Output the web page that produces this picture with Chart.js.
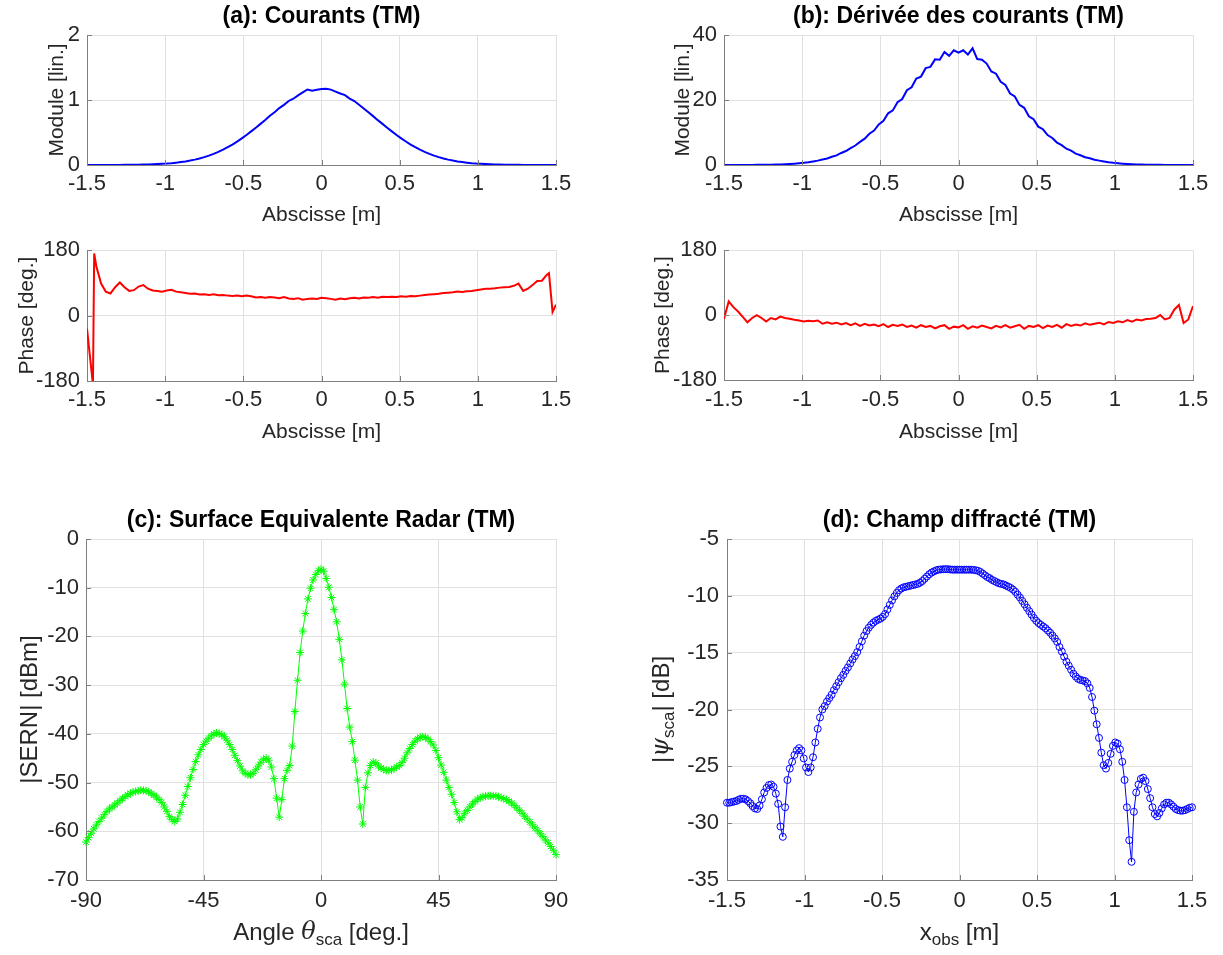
<!DOCTYPE html>
<html lang="fr">
<head>
<meta charset="UTF-8">
<title>Courants, SER et champ diffracté (TM)</title>
<script src="https://cdn.jsdelivr.net/npm/chart.js"></script>
<style>
  body { margin: 0; background: #fff; }
  #fig { position: relative; width: 1223px; height: 955px; background: #fff; overflow: hidden; }
  #fig canvas { position: absolute; }
</style>
</head>
<body>
<div id="fig">
  <canvas id="aMod"></canvas>
  <canvas id="aPha"></canvas>
  <canvas id="bMod"></canvas>
  <canvas id="bPha"></canvas>
  <canvas id="cSer"></canvas>
  <canvas id="dChamp"></canvas>
</div>
<script>
// --- abscissae ---
const xTop = Array.from({length: 101}, (_, i) => +(-1.5 + 0.03 * i).toFixed(3));
const xPhaseA = [-1.5, -1.462, -1.454, ...xTop.slice(2, 99), 1.455, 1.478, 1.5];
const angleSca = Array.from({length: 181}, (_, i) => i - 90);
const xObs = Array.from({length: 201}, (_, i) => +(-1.5 + 0.015 * i).toFixed(3));

// (a) courants : module [lin.]
const moduleA = [
  0.000,0.000,0.000,0.000,0.001,0.001,0.001,0.001,0.002,0.002,
  0.003,0.005,0.006,0.008,0.011,0.014,0.018,0.022,0.028,0.036,
  0.045,0.055,0.068,0.083,0.100,0.121,0.145,0.171,0.202,0.236,
  0.274,0.315,0.361,0.409,0.462,0.517,0.574,0.633,0.693,0.758,
  0.812,0.876,0.925,0.985,1.020,1.072,1.118,1.162,1.142,1.158,
  1.170,1.172,1.160,1.130,1.100,1.075,1.022,0.984,0.927,0.870,
  0.812,0.752,0.690,0.633,0.574,0.517,0.462,0.409,0.361,0.315,
  0.274,0.236,0.202,0.171,0.145,0.121,0.100,0.083,0.068,0.055,
  0.045,0.036,0.028,0.022,0.018,0.014,0.011,0.008,0.006,0.005,
  0.003,0.002,0.002,0.001,0.001,0.001,0.001,0.000,0.000,0.000,
  0.000
];
// (a) courants : phase [deg.] (sur xPhaseA)
const phaseA = [
  -36, -190, 171,
  135, 88, 66, 61, 78, 91, 78, 68, 70, 80,
  84, 74, 69, 68, 66, 69, 71, 66, 64, 62,
  60, 61, 58, 59, 57, 59, 56, 57, 55, 54,
  55, 53, 55, 53, 50, 51, 49, 51, 50, 48,
  51, 47, 46, 48, 44, 46, 47, 46, 49, 48,
  46, 44, 47, 45, 48, 49, 47, 50, 49, 51,
  49, 52, 51, 52, 51, 53, 52, 54, 53, 55,
  57, 58, 59, 60, 62, 63, 64, 66, 65, 67,
  68, 70, 72, 74, 74, 75, 77, 78, 79, 82,
  88, 68, 74, 84, 95, 96, 112,
  117, 10, 30
];
// (b) dérivée des courants : module [lin.]
const moduleB = [
  0.00,0.00,0.00,0.01,0.02,0.02,0.03,0.04,0.05,0.07,
  0.09,0.13,0.18,0.24,0.32,0.42,0.54,0.66,0.84,1.08,
  1.35,1.70,2.00,2.55,2.95,3.70,4.30,5.20,6.00,7.10,
  8.1,9.6,10.6,12.5,13.6,15.9,16.8,19.3,20.3,23.0,
  23.9,26.6,27.2,29.8,30.2,32.5,32.4,34.8,33.6,35.3,
  34.6,35.3,34.0,35.9,32.6,32.4,31.2,28.8,28.1,25.6,
  24.6,22.0,21.1,18.5,17.6,15.0,14.1,11.8,11.0,9.2,
  8.3,6.9,6.1,5.0,4.4,3.5,3.0,2.4,2.05,1.6,
  1.35,1.08,0.84,0.66,0.54,0.42,0.32,0.24,0.18,0.13,
  0.09,0.07,0.05,0.04,0.03,0.02,0.02,0.01,0.00,0.00,
  0.00
];
// (b) dérivée des courants : phase [deg.]
const phaseB = [
  -10, 38, 22, 10, -5, -20, -8, 0, -8, -18,
  -8, -12, -4, -8, -10, -13, -15, -18, -16, -17,
  -15, -24, -20, -24, -21, -26, -22, -28, -23, -30,
  -24, -29, -26, -31, -25, -33, -27, -30, -26, -33,
  -29, -35, -28, -33, -30, -37, -31, -28, -38, -32,
  -34, -28, -38, -31, -35, -29, -33, -37, -30, -34,
  -28, -35, -31, -27, -38, -30, -33, -28, -36, -29,
  -33, -27, -35, -25, -30, -26, -29, -23, -27, -24,
  -21, -26, -19, -22, -17, -20, -14, -18, -12, -15,
  -11, -10, -8, 0, -12, -8, 15, 28, -22, -12,
  25
];
// (c) |SERN| [dBm], un point par degré
const sernDb = [
  -62.2,-61.3,-60.4,-59.5,-58.7,-58.0,-57.3,-56.6,-55.9,-55.4,
  -55.0,-54.6,-54.2,-53.7,-53.3,-52.9,-52.5,-52.2,-52.0,-51.8,
  -51.7,-51.6,-51.6,-51.7,-51.9,-52.2,-52.6,-53.0,-53.5,-54.1,
  -55.0,-55.9,-57.0,-57.6,-58.0,-57.5,-56.1,-54.5,-52.6,-50.8,
  -49.0,-47.3,-45.7,-44.3,-43.2,-42.2,-41.5,-40.9,-40.4,-40.0,
  -39.8,-39.9,-40.2,-40.6,-41.3,-42.2,-43.2,-44.4,-45.5,-46.6,
  -47.6,-48.1,-48.4,-48.4,-48.1,-47.4,-46.6,-45.8,-45.2,-45.0,
  -45.4,-46.8,-49.2,-53.2,-57.1,-53.5,-49.2,-47.5,-46.5,-42.5,
  -35.4,-29.0,-23.3,-18.9,-15.3,-12.3,-10.1,-8.4,-7.3,-6.5,
  -6.2,-6.6,-8.1,-9.9,-12.0,-14.5,-17.0,-20.6,-24.8,-29.8,
  -34.8,-38.6,-41.6,-45.4,-49.5,-55.0,-58.5,-51.0,-48.0,-46.5,
  -45.8,-46.0,-46.6,-47.0,-47.3,-47.5,-47.5,-47.4,-47.1,-46.8,
  -46.5,-45.9,-45.0,-43.9,-43.0,-42.2,-41.5,-41.0,-40.7,-40.6,
  -40.7,-41.1,-41.6,-42.3,-43.4,-44.9,-46.4,-47.9,-49.5,-51.0,
  -52.4,-54.1,-56.0,-57.6,-57.2,-56.3,-55.7,-55.0,-54.4,-53.9,
  -53.4,-53.1,-52.9,-52.8,-52.7,-52.7,-52.7,-52.8,-52.9,-53.1,
  -53.3,-53.5,-53.8,-54.2,-54.7,-55.2,-55.7,-56.3,-56.9,-57.5,
  -58.1,-58.7,-59.3,-59.9,-60.5,-61.1,-61.8,-62.4,-63.1,-63.9,
  -64.8
];
// (d) |psi_sca| [dB]
const champDb = [
  -28.2,-28.2,-28.15,-28.1,-28.05,-27.95,-27.85,-27.85,-27.9,-28.05,
  -28.25,-28.5,-28.7,-28.75,-28.45,-27.9,-27.3,-26.9,-26.65,-26.6,
  -26.8,-27.4,-28.3,-30.3,-31.2,-28.6,-26.2,-25.2,-24.6,-24.0,
  -23.6,-23.4,-23.6,-24.3,-25.1,-25.5,-25.1,-24.2,-22.9,-21.7,
  -20.7,-20.0,-19.7,-19.3,-19.0,-18.7,-18.3,-17.95,-17.6,-17.25,
  -16.95,-16.6,-16.3,-15.95,-15.6,-15.3,-14.95,-14.5,-14.0,-13.5,
  -13.1,-12.8,-12.55,-12.35,-12.2,-12.1,-12.0,-11.85,-11.6,-11.2,
  -10.8,-10.4,-10.05,-9.75,-9.5,-9.35,-9.25,-9.2,-9.15,-9.1,
  -9.05,-9.0,-8.95,-8.85,-8.7,-8.5,-8.3,-8.1,-7.95,-7.85,
  -7.75,-7.7,-7.68,-7.66,-7.65,-7.66,-7.68,-7.7,-7.7,-7.7,
  -7.7,-7.7,-7.7,-7.7,-7.7,-7.7,-7.72,-7.75,-7.8,-7.9,
  -8.05,-8.2,-8.35,-8.45,-8.6,-8.7,-8.8,-8.9,-8.95,-9.0,
  -9.1,-9.2,-9.3,-9.45,-9.65,-9.9,-10.15,-10.45,-10.75,-11.05,
  -11.35,-11.65,-11.95,-12.2,-12.4,-12.55,-12.7,-12.85,-13.05,-13.25,
  -13.5,-13.75,-14.05,-14.5,-14.9,-15.35,-15.8,-16.15,-16.5,-16.85,
  -17.1,-17.3,-17.4,-17.45,-17.5,-17.7,-18.1,-18.9,-20.1,-21.3,
  -22.5,-23.8,-24.9,-25.2,-24.7,-23.9,-23.2,-22.9,-23.0,-23.5,
  -24.6,-26.2,-28.6,-31.5,-33.4,-29.0,-27.3,-26.6,-26.1,-26.0,
  -26.3,-27.0,-27.8,-28.6,-29.2,-29.4,-29.1,-28.7,-28.35,-28.2,
  -28.2,-28.35,-28.55,-28.75,-28.85,-28.9,-28.9,-28.85,-28.75,-28.65,
  -28.6
];

const SANS = '"Liberation Sans", Arial, Helvetica, sans-serif';
const SERIF = '"DejaVu Serif", "Liberation Serif", serif';
const INK = '#262626';
const GRID = '#e1e1e1';
const AXIS = '#7f7f7f';
Chart.defaults.font.family = SANS;

// petites graduations vers l'intérieur, comme sous Matlab
const inwardTicks = {
  id: 'inwardTicks',
  afterDatasetsDraw(chart) {
    const {ctx, chartArea: a, scales: {x, y}} = chart;
    ctx.save();
    ctx.strokeStyle = AXIS;
    ctx.lineWidth = 1;
    ctx.beginPath();
    x.ticks.forEach(t => {
      const px = Math.round(x.getPixelForValue(t.value)) + 0.5;
      ctx.moveTo(px, a.bottom); ctx.lineTo(px, a.bottom - 5);
    });
    y.ticks.forEach(t => {
      const py = Math.round(y.getPixelForValue(t.value)) + 0.5;
      ctx.moveTo(a.left, py); ctx.lineTo(a.left + 5, py);
    });
    ctx.stroke();
    ctx.restore();
  }
};

function drawRich(ctx, parts, size, cx, cy, rot) {
  ctx.save();
  ctx.translate(cx, cy);
  ctx.rotate(rot);
  ctx.fillStyle = INK;
  ctx.textBaseline = 'middle';
  ctx.textAlign = 'left';
  const runs = parts.map(([text, kind]) => {
    const fs = kind === 'sub' ? Math.round(size * 0.72) : size;
    const font = kind === 'it' ? `italic ${fs}px ${SERIF}` : `${fs}px ${SANS}`;
    ctx.font = font;
    return {text, font, w: ctx.measureText(text).width, dy: kind === 'sub' ? size * 0.32 : 0};
  });
  let x = -runs.reduce((s, r) => s + r.w, 0) / 2;
  runs.forEach(r => { ctx.font = r.font; ctx.fillText(r.text, x, r.dy); x += r.w; });
  ctx.restore();
}

// titres d'axes avec indices (sca, obs)
function richTitles(spec) {
  return {
    id: 'richTitles',
    afterDraw(chart) {
      const a = chart.chartArea;
      if (spec.x) drawRich(chart.ctx, spec.x, spec.size, (a.left + a.right) / 2, spec.xY, 0);
      if (spec.y) drawRich(chart.ctx, spec.y, spec.size, spec.yX, (a.top + a.bottom) / 2, -Math.PI / 2);
    }
  };
}

const tickText = v => String(+v.toFixed(2));

function panel(id, p) {
  const [L, T, R, B] = p.box;
  const tlh = p.labelSize * 1.2;
  const klh = p.tickSize * 1.2;
  const left = Math.round(p.yTitleX - tlh / 2 - 2);
  const cTop = T - (p.title ? 35 : 20);
  const right = R + 30;
  const bottom = Math.round(p.xTitleY + tlh / 2 + 2);
  const cv = document.getElementById(id);
  cv.width = right - left;
  cv.height = bottom - cTop;
  cv.style.left = left + 'px';
  cv.style.top = cTop + 'px';

  const xRich = Array.isArray(p.xTitle);
  const yRich = Array.isArray(p.yTitle);
  const TS = 23;
  const tPadTop = p.title ? p.titleY - cTop - TS * 0.6 : 0;

  const axisFont = {family: SANS, size: p.tickSize};
  const labelFont = {family: SANS, size: p.labelSize};

  new Chart(cv, {
    type: 'line',
    data: {
      datasets: p.series.map(s => ({
        data: s.ys.map((v, i) => ({x: s.xs[i], y: v})),
        borderColor: s.color,
        borderWidth: s.width,
        pointRadius: s.marker ? s.markerSize : 0,
        pointStyle: s.marker || 'circle',
        pointBorderColor: s.color,
        pointBackgroundColor: 'rgba(0,0,0,0)',
        pointBorderWidth: 1,
        tension: 0,
        clip: s.noClip ? false : undefined
      }))
    },
    options: {
      responsive: false,
      animation: false,
      devicePixelRatio: 1,
      layout: {padding: {top: p.title ? 0 : T - cTop, right: right - R, left: 0, bottom: 0}},
      plugins: {
        legend: {display: false},
        tooltip: {enabled: false},
        title: p.title ? {
          display: true, text: p.title, color: '#000', fullSize: false,
          font: {family: SANS, size: TS, weight: 'bold', lineHeight: 1.2},
          padding: {top: tPadTop, bottom: (T - cTop) - tPadTop - TS * 1.2}
        } : {display: false}
      },
      scales: {
        x: {
          type: 'linear', min: p.x[0], max: p.x[1],
          afterFit: s => { s.height = bottom - B; },
          ticks: {stepSize: p.x[2], font: axisFont, color: INK, padding: p.xTickY - B - klh / 2,
                  maxRotation: 0, autoSkip: false, callback: tickText},
          grid: {color: GRID, drawTicks: false},
          border: {display: true, color: AXIS},
          title: xRich ? {display: false} : {
            display: true, text: p.xTitle, color: INK, font: labelFont,
            padding: {top: 0, bottom: bottom - p.xTitleY - tlh / 2}
          }
        },
        y: {
          type: 'linear', min: p.y[0], max: p.y[1],
          afterFit: s => { s.width = L - left; },
          ticks: {stepSize: p.y[2], font: axisFont, color: INK, padding: L - p.yTickR,
                  autoSkip: false, callback: tickText},
          grid: {color: GRID, drawTicks: false},
          border: {display: true, color: AXIS},
          title: yRich ? {display: false} : {
            display: true, text: p.yTitle, color: INK, font: labelFont,
            padding: {top: p.yTitleX - left - tlh / 2, bottom: 0}
          }
        }
      }
    },
    plugins: [inwardTicks, richTitles({
      size: p.labelSize,
      x: xRich ? p.xTitle : null, xY: p.xTitleY - cTop,
      y: yRich ? p.yTitle : null, yX: p.yTitleX - left
    })]
  });
}

const topRow = {x: [-1.5, 1.5, 0.5], tickSize: 22, labelSize: 21, xTitle: 'Abscisse [m]'};

panel('aMod', Object.assign({}, topRow, {
  box: [87, 35, 556, 165], title: '(a): Courants (TM)', titleY: 17,
  y: [0, 2, 1], yTitle: 'Module [lin.]', xTitleY: 215, yTitleX: 57, xTickY: 184, yTickR: 80,
  series: [{xs: xTop, ys: moduleA, color: '#0000ff', width: 2}]
}));
panel('aPha', Object.assign({}, topRow, {
  box: [87, 250, 556, 381],
  y: [-180, 180, 180], yTitle: 'Phase [deg.]', xTitleY: 432, yTitleX: 27, xTickY: 400, yTickR: 80,
  series: [{xs: xPhaseA, ys: phaseA, color: '#ff0000', width: 2}]
}));
panel('bMod', Object.assign({}, topRow, {
  box: [724, 35, 1193, 165], title: '(b): Dérivée des courants (TM)', titleY: 17,
  y: [0, 40, 20], yTitle: 'Module [lin.]', xTitleY: 215, yTitleX: 683, xTickY: 184, yTickR: 717,
  series: [{xs: xTop, ys: moduleB, color: '#0000ff', width: 2}]
}));
panel('bPha', Object.assign({}, topRow, {
  box: [724, 250, 1193, 380],
  y: [-180, 180, 180], yTitle: 'Phase [deg.]', xTitleY: 432, yTitleX: 663, xTickY: 400, yTickR: 717,
  series: [{xs: xTop, ys: phaseB, color: '#ff0000', width: 2}]
}));
panel('cSer', {
  box: [86, 539, 556, 880], title: '(c): Surface Equivalente Radar (TM)', titleY: 521,
  x: [-90, 90, 45], y: [-70, 0, 10], tickSize: 22, labelSize: 24,
  xTitle: [['Angle ', ''], ['\u03b8', 'it'], ['sca', 'sub'], [' [deg.]', '']],
  yTitle: '|SERN| [dBm]', xTitleY: 933, yTitleX: 30, xTickY: 901, yTickR: 79,
  series: [{xs: angleSca, ys: sernDb, color: '#00ff00', width: 1, marker: 'star', markerSize: 4, noClip: true}]
});
panel('dChamp', {
  box: [727, 539, 1192, 880], title: '(d): Champ diffract\u00e9 (TM)', titleY: 521,
  x: [-1.5, 1.5, 0.5], y: [-35, -5, 5], tickSize: 22, labelSize: 24,
  xTitle: [['x', ''], ['obs', 'sub'], [' [m]', '']],
  yTitle: [['|', ''], ['\u03c8', 'it'], ['sca', 'sub'], ['| [dB]', '']],
  xTitleY: 933, yTitleX: 662, xTickY: 901, yTickR: 719,
  series: [{xs: xObs, ys: champDb, color: '#0000ff', width: 1, marker: 'circle', markerSize: 3.5, noClip: true}]
});
</script>
</body>
</html>
